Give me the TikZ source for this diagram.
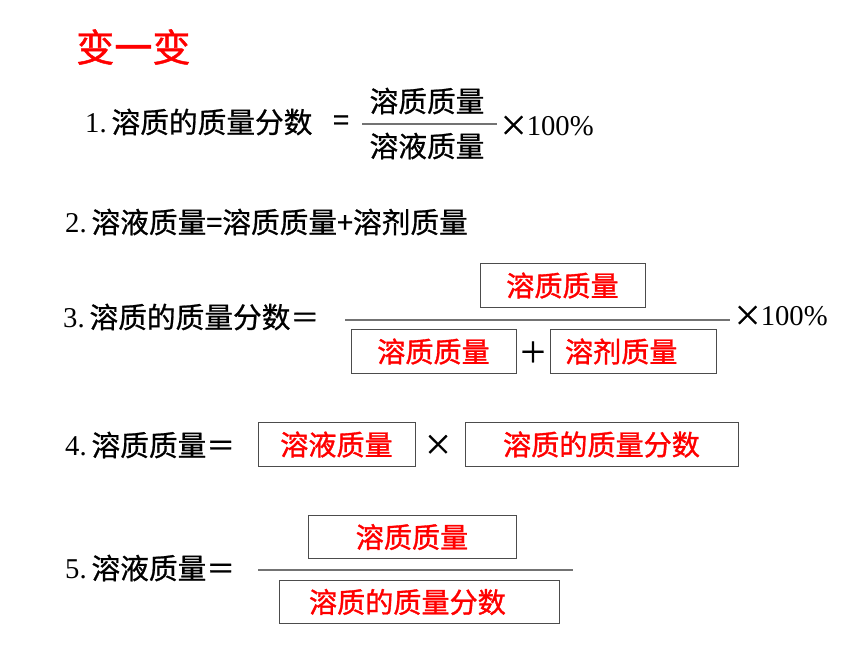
\documentclass[tikz,border=0pt]{standalone}
\usepackage{fontspec}
\setmainfont{Liberation Serif}
\newfontfamily\cjk[FakeBold=0.7]{Noto Sans CJK SC}
\newfontfamily\cjkred[FakeBold=1.2]{Noto Sans CJK SC}
\usetikzlibrary{positioning}
\tikzstyle{txt}      = [inner sep=0pt, font=\fontsize{24.5}{28}\selectfont]
\tikzstyle{redtxt}   = [inner sep=0pt, text=red, font=\cjkred\fontsize{24}{28}\selectfont]
\tikzstyle{title}    = [inner sep=0pt, text=red, font=\cjkred\fontsize{32.5}{36}\selectfont]
\tikzstyle{box}      = [draw=black!70, line width=0.8pt, minimum height=1.3cm, inner sep=0pt, redtxt]
\tikzstyle{fracline} = [draw=black!55, line width=0.9pt]

\begin{document}
\begin{tikzpicture}[x=0.03cm,y=-0.03cm]
        \useasboundingbox (0,0) rectangle (860,645);

        \node[title, anchor=west] (head) at (76,47) {变一变};

        \node[txt, anchor=west] (l1) at (85,122) {1.\,{\cjk 溶质的质量分数}};
        \node[txt] (l1eq) at (341,123) {\cjk =};
        \node[txt] (l1num) at (427,101) {\cjk 溶质质量};
        \node[txt] (l1den) at (427,146) {\cjk 溶液质量};
        \draw[fracline] (362,124) -- (497,124);
        \node[txt, anchor=west] (l1pct) at (499,126) {{\cjk ×}\kern-1pt100\%};

        \node[txt, anchor=west] (l2) at (65,222) {2.\,{\cjk 溶液质量=溶质质量+溶剂质量}};

        \node[txt, anchor=west] (l3) at (63,317) {3.\,{\cjk 溶质的质量分数＝}};
        \node[box, minimum width=4.95cm] (l3num) at (562.5,285.5) {溶质质量};
        \draw[fracline] (345,320) -- (730,320);
        \node[box, minimum width=4.95cm] (l3a) at (433.5,351.5) {溶质质量};
        \node[txt] (l3plus) at (533,352) {\cjk ＋};
        \node[box, inner xsep=0.45cm, text width=4.08cm, align=left] (l3b) at (633,351.5) {溶剂质量};
        \node[txt, anchor=west] (l3pct) at (733,316) {{\cjk ×}\kern-1pt100\%};

        \node[txt, anchor=west] (l4) at (65,445) {4.\,{\cjk 溶质质量＝}};
        \node[box, minimum width=4.71cm] (l4a) at (336.5,444.5) {溶液质量};
        \node[txt] (l4times) at (438,445) {\cjk ×};
        \node[box, minimum width=8.19cm] (l4b) at (601.5,444.5) {溶质的质量分数};

        \node[txt, anchor=west] (l5) at (65,568) {5.\,{\cjk 溶液质量＝}};
        \node[box, minimum width=6.24cm] (l5num) at (412,537) {溶质质量};
        \draw[fracline] (258,570) -- (573,570);
        \node[box, inner xsep=0.9cm, text width=6.6cm, align=left] (l5den) at (419,602) {溶质的质量分数};
    \end{tikzpicture}
\end{document}
